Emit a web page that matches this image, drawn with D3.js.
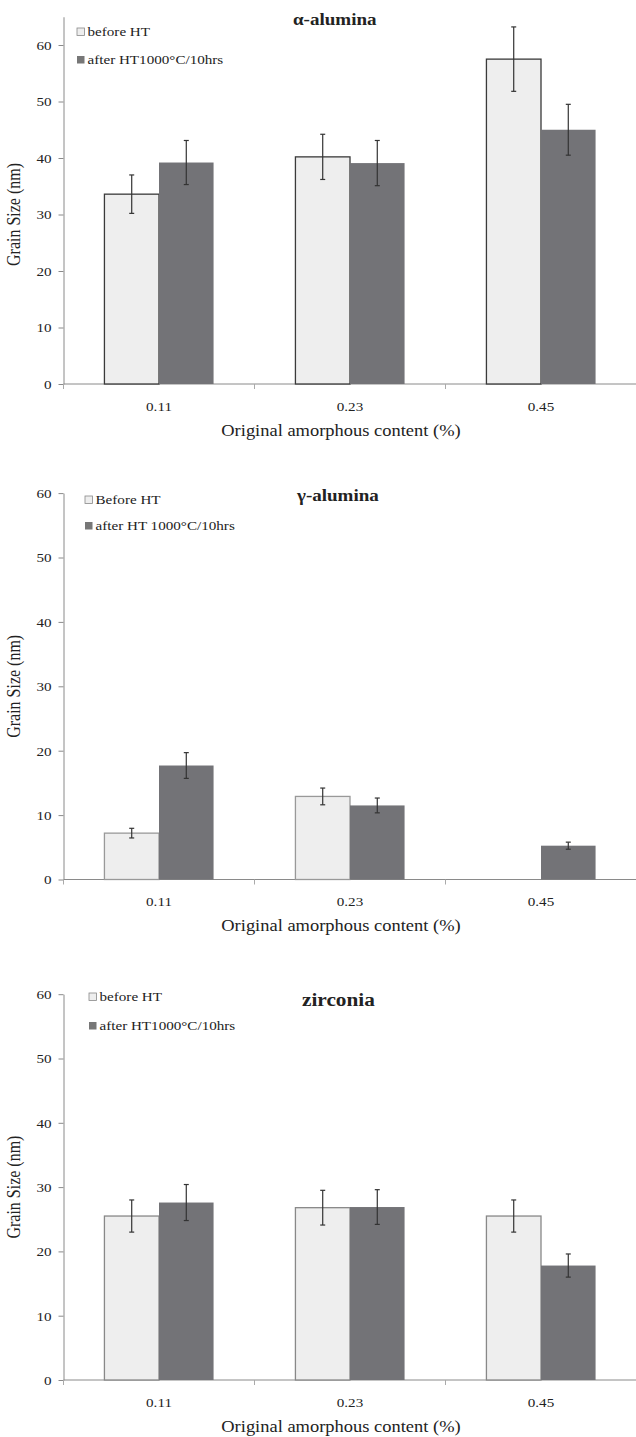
<!DOCTYPE html>
<html>
<head>
<meta charset="utf-8">
<script src="https://cdn.jsdelivr.net/npm/d3@7"></script>
<style>
  body { margin: 0; background: #fff; }
  text { font-family: "Liberation Serif", "Times New Roman", serif; fill: #222; }
</style>
</head>
<body>
<div id="vis"></div>
<script>
// data
const categories = ["0.11", "0.23", "0.45"];
const yTicks = [0, 10, 20, 30, 40, 50, 60];

const alphaBefore = [33.6, 40.2, 57.5];
const alphaBeforeErr = [3.4, 4.0, 5.7];
const alphaAfter = [39.2, 39.1, 45.0];
const alphaAfterErr = [3.9, 4.0, 4.5];

const gammaBefore = [7.2, 12.9, null];
const gammaBeforeErr = [0.75, 1.3, null];
const gammaAfter = [17.7, 11.5, 5.25];
const gammaAfterErr = [2.0, 1.15, 0.55];

const zircBefore = [25.5, 26.8, 25.5];
const zircBeforeErr = [2.5, 2.7, 2.5];
const zircAfter = [27.6, 26.9, 17.8];
const zircAfterErr = [2.8, 2.7, 1.8];

const SX = 1.12; // source picture is a bit stretched sideways

const svg = d3.select("#vis").append("svg")
  .attr("width", 636)
  .attr("height", 1437);

function stretch(sel) {
  sel.each(function() {
    const t = d3.select(this);
    const ax = +t.attr("x") || 0, ay = +t.attr("y") || 0;
    t.attr("transform", `translate(${ax},${ay}) scale(${SX},1) translate(${-ax},${-ay})`);
  });
}

function drawPanel(p) {
  const x = d3.scaleBand().domain(categories).range([63.5, 636.5]);
  const xs = d3.scaleBand().domain(["before", "after"]).range([0, x.bandwidth()]).paddingOuter(0.75);
  const y = d3.scaleLinear().domain([0, p.ymax]).range([p.y0, p.y0 - p.ymax * p.unit]);

  const g = svg.append("g");

  // y axis
  const ya = g.append("g")
    .attr("transform", "translate(63.5,0)")
    .call(d3.axisLeft(y).tickValues(yTicks).tickSize(5).tickPadding(7).tickSizeOuter(0));
  ya.select(".domain").attr("stroke", "#8a8a8a");
  ya.selectAll(".tick line").attr("stroke", "#8a8a8a");
  ya.selectAll(".tick text").attr("font-size", 13.5).attr("fill", "#222").call(stretch);

  // x axis, ticks on band edges
  const xa = g.append("g").attr("transform", `translate(0,${p.y0})`);
  xa.append("line").attr("x1", 63.5).attr("x2", 636.5).attr("stroke", "#8a8a8a");
  xa.selectAll("line.tk").data(categories).join("line").attr("class", "tk")
    .attr("x1", d => x(d)).attr("x2", d => x(d)).attr("y1", 0).attr("y2", 5)
    .attr("stroke", "#aaa");
  xa.selectAll("text").data(categories).join("text")
    .attr("x", d => x(d) + x.bandwidth() / 2).attr("y", 27)
    .attr("text-anchor", "middle").attr("font-size", 13.5)
    .text(d => d).call(stretch);

  xa.append("text").attr("x", 341).attr("y", 52).attr("text-anchor", "middle")
    .attr("font-size", 16.5).text("Original amorphous content (%)").call(stretch);

  g.append("text")
    .attr("transform", `translate(20,${y(30)}) scale(${SX},1) rotate(-90)`)
    .attr("text-anchor", "middle").attr("font-size", 16)
    .text("Grain Size (nm)");

  const series = [
    { key: "before", vals: p.before, errs: p.beforeErr, fill: "#eeeeee", stroke: p.lightStroke },
    { key: "after", vals: p.after, errs: p.afterErr, fill: "#737377", stroke: "none" }
  ];

  series.forEach(s => {
    const rows = categories.map((c, i) => ({ c, v: s.vals[i], e: s.errs[i] })).filter(d => d.v != null);
    g.append("g").selectAll("rect").data(rows).join("rect")
      .attr("x", d => x(d.c) + xs(s.key))
      .attr("y", d => y(d.v))
      .attr("width", xs.bandwidth())
      .attr("height", d => y(0) - y(d.v))
      .attr("fill", s.fill)
      .attr("stroke", s.stroke)
      .attr("stroke-width", 1.3);
  });

  series.forEach(s => {
    const rows = categories.map((c, i) => ({ c, v: s.vals[i], e: s.errs[i] })).filter(d => d.v != null);
    const eg = g.append("g").attr("stroke", "#333").attr("stroke-width", 1.2);
    const cx = d => x(d.c) + xs(s.key) + xs.bandwidth() / 2;
    eg.selectAll("line.v").data(rows).join("line").attr("class", "v")
      .attr("x1", cx).attr("x2", cx)
      .attr("y1", d => y(d.v + d.e)).attr("y2", d => y(d.v - d.e));
    eg.selectAll("line.t").data(rows).join("line").attr("class", "t")
      .attr("x1", d => cx(d) - 2.5).attr("x2", d => cx(d) + 2.5)
      .attr("y1", d => y(d.v + d.e)).attr("y2", d => y(d.v + d.e));
    eg.selectAll("line.b").data(rows).join("line").attr("class", "b")
      .attr("x1", d => cx(d) - 2.5).attr("x2", d => cx(d) + 2.5)
      .attr("y1", d => y(d.v - d.e)).attr("y2", d => y(d.v - d.e));
  });

  // title
  g.append("text").attr("x", p.titleX).attr("y", p.titleY)
    .attr("font-weight", "bold").attr("font-size", p.titleSize)
    .text(p.title).call(stretch);

  // legend
  const lg = g.append("g");
  p.legend.forEach((lab, i) => {
    const by = p.legY + i * p.legGap;
    lg.append("rect").attr("x", p.legX).attr("y", by - 8).attr("width", 7.5).attr("height", 7.5)
      .attr("fill", i === 0 ? "#eeeeee" : "#777")
      .attr("stroke", i === 0 ? "#888" : "none").attr("stroke-width", 0.8);
    lg.append("text").attr("x", p.legX + 10.5).attr("y", by).attr("font-size", 13.5)
      .text(lab).call(stretch);
  });
}

drawPanel({
  y0: 384, unit: 5.65, ymax: 65,
  before: alphaBefore, beforeErr: alphaBeforeErr, after: alphaAfter, afterErr: alphaAfterErr,
  lightStroke: "#3a3a3a",
  title: "\u03b1-alumina", titleX: 293, titleY: 25, titleSize: 17,
  legend: ["before HT", "after HT1000°C/10hrs"], legX: 77, legY: 36, legGap: 28
});

drawPanel({
  y0: 879.5, unit: 6.44, ymax: 60,
  before: gammaBefore, beforeErr: gammaBeforeErr, after: gammaAfter, afterErr: gammaAfterErr,
  lightStroke: "#999",
  title: "\u03b3-alumina", titleX: 297, titleY: 501, titleSize: 17,
  legend: ["Before HT", "after HT 1000°C/10hrs"], legX: 85, legY: 504, legGap: 26
});

drawPanel({
  y0: 1380, unit: 6.43, ymax: 60,
  before: zircBefore, beforeErr: zircBeforeErr, after: zircAfter, afterErr: zircAfterErr,
  lightStroke: "#888",
  title: "zirconia", titleX: 302, titleY: 1006, titleSize: 19,
  legend: ["before HT", "after HT1000°C/10hrs"], legX: 89, legY: 1001, legGap: 29
});
</script>
</body>
</html>
